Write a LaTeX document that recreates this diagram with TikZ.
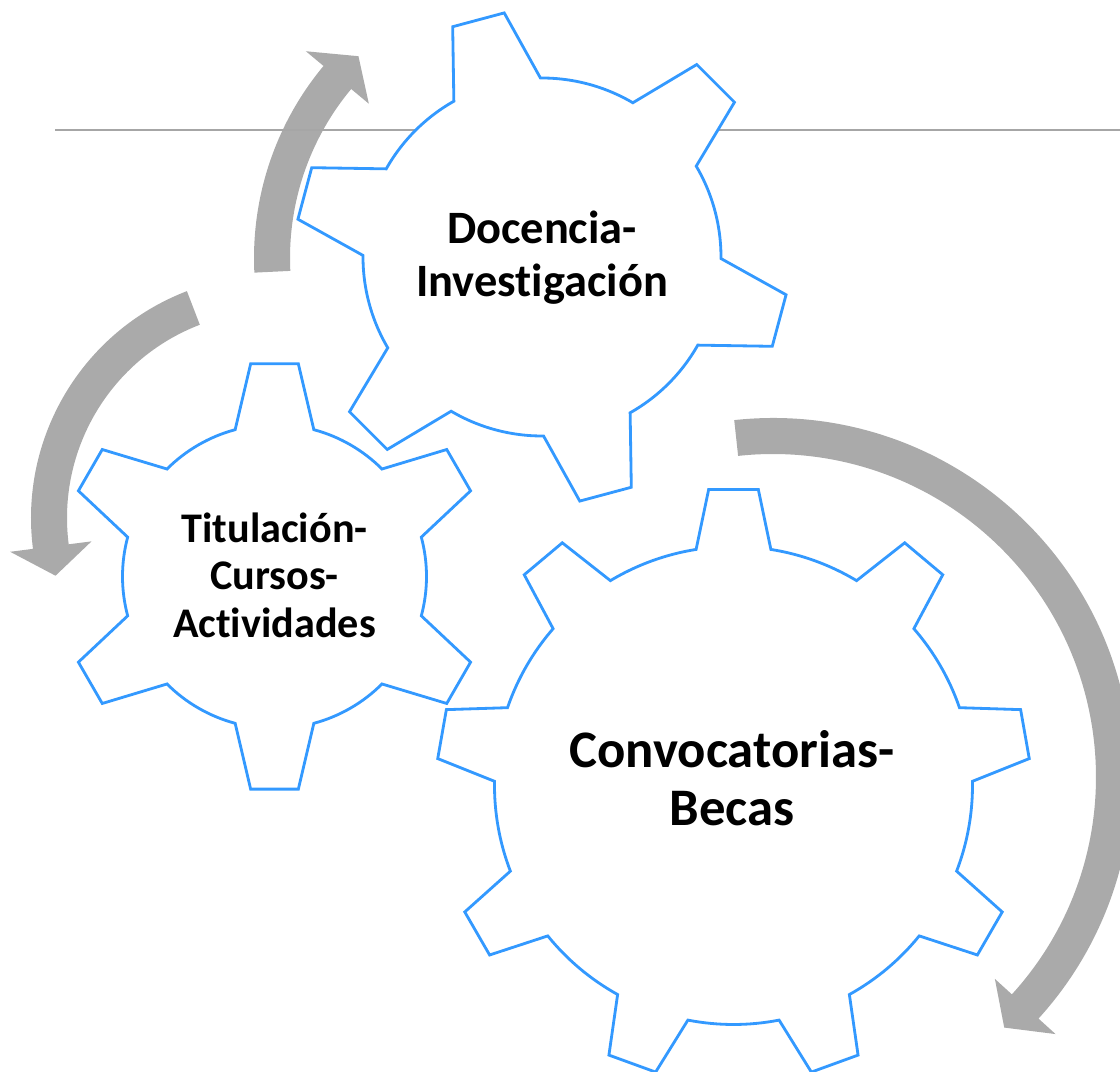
\documentclass[tikz,border=0pt]{standalone}
\usepackage{fontspec}
\setmainfont{Carlito}[Ligatures=NoCommon]
\definecolor{gearblue}{RGB}{51,153,255}
\definecolor{arrowgray}{RGB}{170,170,170}
\definecolor{linegray}{RGB}{166,166,166}
\tikzset{%
    gear/.style={draw=gearblue,line width=0.8pt,fill=white,line join=miter},
    flecha/.style={fill=arrowgray},
    etiqueta/.style={align=center,inner sep=0pt,text=black},
}

\begin{document}
\begin{tikzpicture}[x=0.01cm,y=0.01cm]
            \useasboundingbox (0,0) rectangle (1120,1072);

            %flechas
            \fill[flecha,shift={(554,814)}] (182.8:300) arc[start angle=182.8,end angle=140.2,radius=300] -- (140.2:323) -- (134.1:281) -- (140.2:241) -- (140.2:264) arc[start angle=140.2,end angle=182.8,radius=264] -- cycle;
            \fill[flecha,shift={(274,554)}] (111:243) arc[start angle=111,end angle=187.3,radius=243] -- (187.3:266) -- (194.8:226) -- (187.3:184) -- (187.3:207) arc[start angle=187.3,end angle=111,radius=207] -- cycle;
            \fill[flecha,shift={(773,295)}] (96.2:359) arc[start angle=96.2,end angle=-42.3,radius=359] -- (-42.3:382) -- (-47.3:341) -- (-42.3:300) -- (-42.3:323) arc[start angle=-42.3,end angle=96.2,radius=323] -- cycle;

            %linea
            \draw[linegray,line width=0.5pt] (55,942) -- (1120,942);

            %engranajes
            \draw[gear,shift={(542,815)}] (90.5:179)
                \foreach \a in {105,165,...,405}{
                    -- ({\a-6.2}:247) -- ({\a+6.2}:247) -- ({\a+14.5}:179)
                    arc[start angle=\a+14.5,end angle=\a+45.5,radius=179]
                } -- cycle;
            \draw[gear,shift={(274.5,495.5)}] (75:152)
                \foreach \a in {90,150,...,390}{
                    -- ({\a-6.4}:214) -- ({\a+6.4}:214) -- ({\a+15}:152)
                    arc[start angle=\a+15,end angle=\a+45,radius=152]
                } -- cycle;
            \draw[gear,shift={(733.5,286.5)}] (81:239)
                \foreach \a in {90,130,...,410}{
                    -- ({\a-4.8}:297) -- ({\a+4.8}:297) -- ({\a+9}:239)
                    arc[start angle=\a+9,end angle=\a+31,radius=239]
                } -- cycle;

            %textos
            \node[etiqueta,font=\bfseries\fontsize{13.2}{15}\selectfont] (docencia) at (542,814) {Docencia-\\Investigación};
            \node[etiqueta,font=\bfseries\fontsize{12}{13.5}\selectfont] (titulacion) at (274.5,497) {Titulación-\\Cursos-\\Actividades};
            \node[etiqueta,font=\bfseries\fontsize{15}{16.5}\selectfont] (convocatorias) at (732,294) {Convocatorias-\\Becas};
        \end{tikzpicture}
\end{document}
